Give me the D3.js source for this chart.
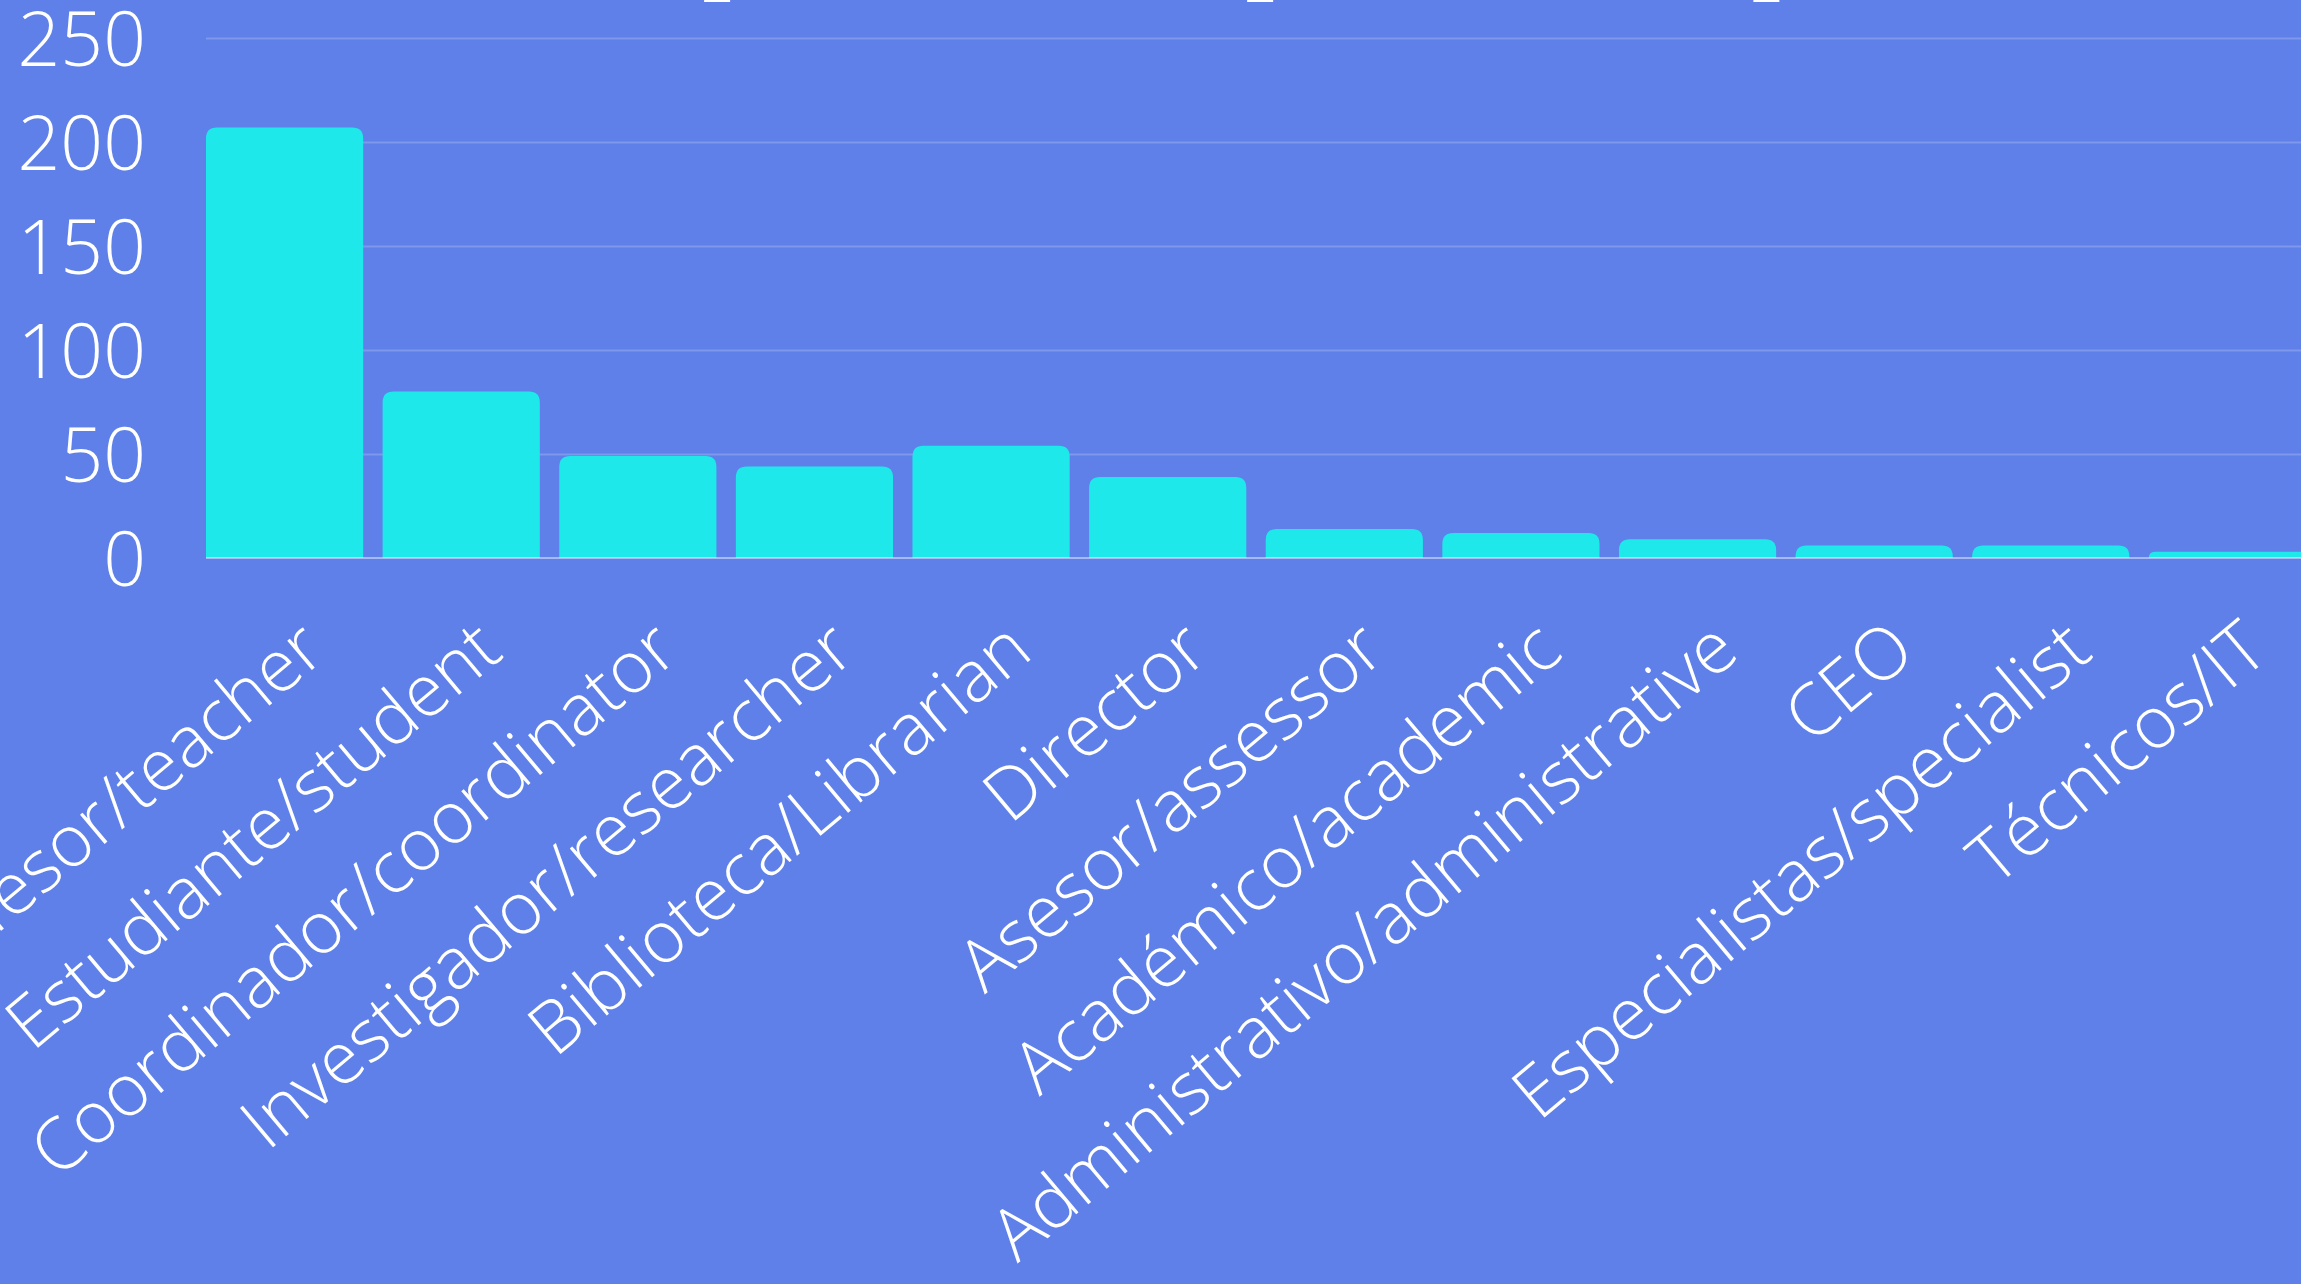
<!DOCTYPE html>
<html>
<head>
<meta charset="utf-8">
<script src="https://cdn.jsdelivr.net/npm/d3@7"></script>
<style>
  html, body { margin: 0; padding: 0; background: #5e80e8; overflow: hidden; }
  svg { display: block; font-family: "Open Sans", "Noto Sans", sans-serif; }
</style>
</head>
<body>
<svg width="2301" height="1284"></svg>
<script>
// categories and counts
var roles = ["Profesor/teacher", "Estudiante/student", "Coordinador/coordinator",
    "Investigador/researcher", "Biblioteca/Librarian", "Director", "Asesor/assessor",
    "Académico/academic", "Administrativo/administrative", "CEO",
    "Especialistas/specialist", "Técnicos/IT"];
var counts = [207, 80, 49, 44, 54, 39, 14, 12, 9, 6, 6, 3];
var yTicks = [0, 50, 100, 150, 200, 250];

var svg = d3.select("svg"),
    width = +svg.attr("width"),
    height = +svg.attr("height");

var plotLeft = 206, plotTop = 38, plotBottom = 558;

var x = d3.scaleBand()
    .domain(roles)
    .range([plotLeft, plotLeft + 2100])
    .paddingInner(0.11)
    .paddingOuter(0)
    .align(0);

var y = d3.scaleLinear()
    .domain([0, 250])
    .range([plotBottom, plotTop]);

svg.append("rect")
    .attr("width", width)
    .attr("height", height)
    .attr("fill", "#5e80e8");

// bits of the header cut off at the top edge
svg.append("g")
    .selectAll("rect")
    .data([0.306, 0.542, 0.762])
    .enter().append("rect")
    .attr("x", function(d) { return d * width; })
    .attr("y", -2)
    .attr("width", 26)
    .attr("height", 4)
    .attr("fill", "#ffffff");

// gridlines
svg.append("g")
    .selectAll("line")
    .data(yTicks.slice(1))
    .enter().append("line")
    .attr("x1", plotLeft)
    .attr("x2", width)
    .attr("y1", function(d) { return y(d) + 0.5; })
    .attr("y2", function(d) { return y(d) + 0.5; })
    .attr("stroke", "rgba(255,255,255,0.2)")
    .attr("stroke-width", 2);

// bars with rounded tops
var r = 11;
svg.append("g")
    .selectAll("path")
    .data(roles)
    .enter().append("path")
    .attr("fill", "#1ee8ea")
    .attr("d", function(d, i) {
        var x0 = x(d), w = x.bandwidth(), y0 = y(counts[i]), y1 = y(0);
        var rr = Math.min(r, (y1 - y0), w / 2);
        return "M" + x0 + "," + y1 +
            "V" + (y0 + rr) +
            "Q" + x0 + "," + y0 + " " + (x0 + rr) + "," + y0 +
            "H" + (x0 + w - rr) +
            "Q" + (x0 + w) + "," + y0 + " " + (x0 + w) + "," + (y0 + rr) +
            "V" + y1 + "Z";
    });

// baseline
svg.append("line")
    .attr("x1", plotLeft)
    .attr("x2", width)
    .attr("y1", y(0))
    .attr("y2", y(0))
    .attr("stroke", "rgba(255,255,255,0.45)")
    .attr("stroke-width", 2);

// y axis labels
var yAxis = d3.axisLeft(y).tickValues(yTicks).tickSize(0).tickPadding(0);
var yg = svg.append("g")
    .attr("transform", "translate(146,0)")
    .call(yAxis);
yg.select(".domain").remove();
yg.selectAll("text")
    .attr("fill", "#ffffff")
    .attr("font-size", 75)
    .attr("font-weight", 300)
    .attr("font-family", "'Open Sans', 'Noto Sans', sans-serif")
    .attr("dy", "0.36em");

// x axis labels, rotated
var xAxis = d3.axisBottom(x).tickSize(0).tickPadding(0);
var xg = svg.append("g")
    .attr("transform", "translate(0,656)")
    .call(xAxis);
xg.select(".domain").remove();
xg.selectAll("text")
    .attr("fill", "#ffffff")
    .attr("font-size", 72)
    .attr("font-weight", 300)
    .attr("font-family", "'Open Sans', 'Noto Sans', sans-serif")
    .attr("y", 0)
    .attr("dy", 0)
    .attr("text-anchor", "end")
    .attr("transform", "translate(44,0) rotate(-40)");
</script>
</body>
</html>
